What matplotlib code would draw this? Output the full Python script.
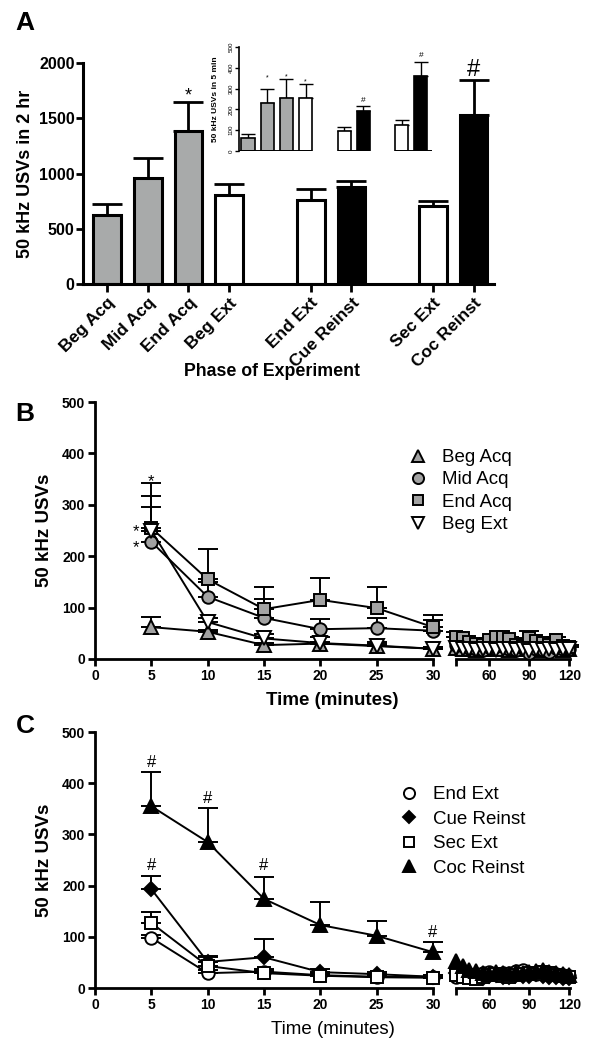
import matplotlib
matplotlib.use('Agg')
import matplotlib.pyplot as plt
from matplotlib.lines import Line2D
import numpy as np

plt.rcParams['font.family'] = ['Liberation Sans', 'DejaVu Sans']

# =============================================================================
# Data
# =============================================================================

# Panel A: USVs in 2 hr (main) and first 5 min (inset)
phases = ['Beg Acq', 'Mid Acq', 'End Acq', 'Beg Ext', 'End Ext', 'Cue Reinst', 'Sec Ext', 'Coc Reinst']
phase_pos = [0, 1, 2, 3, 5, 6, 8, 9]
phase_groups = [[0, 1, 2, 3], [4, 5], [6, 7]]
usv_2hr = [624, 959, 1385, 805, 760, 878, 706, 1529]
usv_2hr_sem = [100, 181, 265, 100, 100, 54, 45, 317]
usv_5min = [62, 231, 255, 253, 98, 194, 126, 362]
usv_5min_sem = [19, 67, 90, 67, 19, 24, 23, 68]
bar_fill = ['gray', 'gray', 'gray', 'white', 'white', 'black', 'white', 'black']

# significance marks
a_marks = [(2, 1700, '*'), (7, 1937, '#')]
inset_marks = [(1, 352, '*'), (2, 357, '*'), (3, 330, '*'), (5, 245, '#'), (7, 457, '#')]
b_marks = [(5, 345, '*'), (3.64, 247, '*'), (3.64, 216, '*')]
c_marks = [(5, 441, '#'), (10, 371, '#'), (15, 240, '#'), (5, 240, '#'), (30, 109, '#')]

# Panels B and C: time course
time_early = [5, 10, 15, 20, 25, 30]
time_late = [35, 40, 45, 50, 55, 60, 65, 70, 75, 80, 85, 90, 95, 100, 105, 110, 115, 120]

beg_acq = [62, 53, 27, 30, 25, 20]
beg_acq_sem = [20, 4, 4, 4, 4, 3]
mid_acq = [228, 121, 80, 58, 60, 55]
mid_acq_sem = [67, 28, 37, 20, 20, 21]
end_acq = [255, 155, 97, 115, 99, 62]
end_acq_sem = [87, 59, 43, 42, 41, 23]
beg_ext = [250, 72, 40, 31, 26, 20]
beg_ext_sem = [68, 8, 8, 12, 7, 4]

beg_acq_late = [22, 20, 19, 18, 20, 19, 21, 20, 18, 19, 20, 21, 19, 18, 20, 19, 18, 20]
mid_acq_late = [28, 25, 22, 20, 18, 24, 26, 25, 20, 17, 22, 12, 20, 18, 14, 22, 20, 19]
end_acq_late = [43, 40, 34, 29, 27, 37, 42, 42, 38, 27, 25, 40, 35, 32, 27, 37, 25, 24]
end_acq_late_sem = [9, 5, 4, 3, 3, 4, 5, 6, 5, 3, 3, 15, 5, 4, 3, 5, 3, 3]
beg_ext_late = [21, 20, 19, 18, 19, 20, 18, 19, 20, 18, 19, 15, 19, 18, 19, 18, 19, 20]

end_ext = [98, 29, 32, 25, 22, 22]
end_ext_sem = [5, 6, 5, 4, 4, 4]
cue_reinst = [193, 51, 60, 31, 27, 22]
cue_reinst_sem = [26, 11, 35, 6, 5, 4]
sec_ext = [127, 43, 29, 24, 21, 20]
sec_ext_sem = [21, 17, 6, 5, 4, 4]
coc_reinst = [355, 285, 174, 123, 102, 70]
coc_reinst_sem = [67, 66, 43, 45, 29, 20]

end_ext_late = [22, 25, 28, 27, 30, 32, 28, 30, 29, 33, 35, 30, 28, 32, 30, 27, 26, 24]
cue_reinst_late = [30, 28, 25, 22, 20, 24, 26, 22, 21, 25, 24, 23, 27, 24, 22, 21, 20, 19]
sec_ext_late = [25, 22, 20, 18, 22, 25, 27, 24, 22, 26, 28, 30, 28, 32, 30, 26, 24, 22]
coc_reinst_late = [52, 42, 35, 33, 30, 28, 32, 30, 28, 32, 30, 31, 34, 36, 32, 30, 28, 26]

GRAY_BAR = '#a8aaaa'
GRAY_MK = '#a2a2a2'
fill_map = {'gray': GRAY_BAR, 'white': 'white', 'black': 'black'}

W, H = 594, 1050
def rect(l, r, t, b):
    return [l / W, 1 - b / H, (r - l) / W, (b - t) / H]

fig = plt.figure(figsize=(W / 100, H / 100), dpi=100)

# =============================================================================
# Panel A main bars
# =============================================================================

ax_a = fig.add_axes(rect(83, 494, 63, 284))
ax_a.patch.set_alpha(0)
ax_a.errorbar(phase_pos, usv_2hr, yerr=[np.zeros(len(usv_2hr)), usv_2hr_sem], fmt='none',
              ecolor='k', elinewidth=2, capsize=11, capthick=2, zorder=1)
ax_a.bar(phase_pos, usv_2hr, width=0.68, color=[fill_map[c] for c in bar_fill],
         edgecolor='k', linewidth=2.2, zorder=2)
for i, y, s in a_marks:
    fs = 13 if s == '*' else 17
    ax_a.text(phase_pos[i], y, s, ha='center', va='center', fontsize=fs)
ax_a.set_xlim(-0.59, 9.5)
ax_a.set_ylim(0, 2000)
ax_a.set_yticks([0, 500, 1000, 1500, 2000])
ax_a.set_xticks(phase_pos)
ax_a.set_xticklabels(phases, rotation=45, ha='right', rotation_mode='anchor',
                     fontsize=12.5, fontweight='bold')
for lab in ax_a.get_yticklabels():
    lab.set_fontweight('bold')
ax_a.tick_params(axis='y', labelsize=11.5, width=2, length=5, pad=1)
ax_a.tick_params(axis='x', width=2, length=6, pad=2)
for sp in ['top', 'right']:
    ax_a.spines[sp].set_visible(False)
for sp in ['left', 'bottom']:
    ax_a.spines[sp].set_linewidth(2.2)
ax_a.set_ylabel('50 kHz USVs in 2 hr', fontsize=13, fontweight='bold', va='center')
ax_a.yaxis.set_label_coords(-0.141, 0.5)
ax_a.set_xlabel('Phase of Experiment', fontsize=12.8, fontweight='bold', va='center')
ax_a.xaxis.set_label_coords(0.461, -0.398)

# =============================================================================
# Panel A inset
# =============================================================================

ax_i = fig.add_axes(rect(239, 432, 47, 151))
ax_i.patch.set_alpha(0)
ax_i.errorbar(phase_pos, usv_5min, yerr=[np.zeros(len(usv_5min)), usv_5min_sem], fmt='none',
              ecolor='k', elinewidth=1, capsize=5, capthick=1, zorder=1)
ax_i.bar(phase_pos, usv_5min, width=0.68, color=[fill_map[c] for c in bar_fill],
         edgecolor='k', linewidth=1.2, zorder=2)
for i, y, s in inset_marks:
    ax_i.text(phase_pos[i], y, s, ha='center', va='center', fontsize=5 if s == '*' else 6)
ax_i.set_xlim(-0.47, 9.58)
ax_i.set_ylim(0, 500)
ax_i.set_yticks([0, 100, 200, 300, 400, 500])
ax_i.set_xticks([])
for lab in ax_i.get_yticklabels():
    lab.set_rotation(90)
    lab.set_va('center')
ax_i.tick_params(axis='y', labelsize=4.5, width=1, length=3, pad=1)
for sp in ['top', 'right', 'bottom']:
    ax_i.spines[sp].set_visible(False)
ax_i.spines['left'].set_linewidth(1.2)
for k, grp in enumerate(phase_groups):
    x0 = phase_pos[grp[0]] - 0.34 if k > 0 else -0.47
    x1 = phase_pos[grp[-1]] + 0.34 if k < len(phase_groups) - 1 else 9.58
    ax_i.hlines(0, x0, x1, color='k', lw=1.4, zorder=3)
ax_i.set_ylabel('50 kHz USVs in 5 min', fontsize=6, fontweight='bold', va='center')
ax_i.yaxis.set_label_coords(-0.124, 0.5)

# =============================================================================
# Panels B and C
# =============================================================================

def plot_series(ax, x, y, err, marker, face, ms, z):
    if err is not None:
        ax.errorbar(x, y, yerr=[np.zeros(len(err)), err], fmt='none', ecolor='k',
                    elinewidth=1.4, capsize=7, capthick=1.4, zorder=z, clip_on=False)
    ax.plot(x, y, color='k', lw=1.4, marker=marker, mfc=face, mec='k', mew=1.4,
            ms=ms, zorder=z + 0.5, clip_on=False)

def style_time_axes(ax, ax2, bold_xlabel):
    ax.set_xlim(0, 30)
    ax.set_ylim(0, 500)
    ax.set_xticks([0, 5, 10, 15, 20, 25, 30])
    ax.set_yticks([0, 100, 200, 300, 400, 500])
    ax2.set_xlim(35, 120.5)
    ax2.set_ylim(0, 500)
    ax2.set_xticks([35, 60, 90, 120])
    ax2.set_xticklabels(['', '60', '90', '120'])
    ax2.set_yticks([])
    for a in [ax, ax2]:
        a.patch.set_alpha(0)
        for sp in ['top', 'right']:
            a.spines[sp].set_visible(False)
        a.spines['bottom'].set_linewidth(2)
        a.tick_params(labelsize=10, width=2, length=5, pad=2)
        for lab in a.get_xticklabels() + a.get_yticklabels():
            lab.set_fontweight('bold')
    ax.spines['left'].set_linewidth(2)
    ax2.spines['left'].set_visible(False)
    ax.set_ylabel('50 kHz USVs', fontsize=13.5, fontweight='bold', va='center')
    ax.yaxis.set_label_coords(-0.148, 0.5)
    ax.set_xlabel('Time (minutes)', fontsize=13.5,
                  fontweight='bold' if bold_xlabel else 'normal', va='center')

# ---- B
ax_b2 = fig.add_axes(rect(456, 570, 402, 659))
ax_b = fig.add_axes(rect(95, 433, 402, 659))
b_series = [
    ('Beg Acq', beg_acq, beg_acq_sem, beg_acq_late, None, '^', GRAY_MK, 9.5),
    ('Mid Acq', mid_acq, mid_acq_sem, mid_acq_late, None, 'o', GRAY_MK, 9),
    ('End Acq', end_acq, end_acq_sem, end_acq_late, end_acq_late_sem, 's', GRAY_MK, 8.5),
    ('Beg Ext', beg_ext, beg_ext_sem, beg_ext_late, None, 'v', 'white', 9.5),
]
for k, (name, y, e, yl, el, mk, fc, ms) in enumerate(b_series):
    plot_series(ax_b, time_early, y, e, mk, fc, ms, 3 + k)
    plot_series(ax_b2, time_late, yl, el, mk, fc, ms, 3 + k)
for x, y, s in b_marks:
    ax_b.text(x, y, s, ha='center', va='center', fontsize=12)
style_time_axes(ax_b, ax_b2, True)
ax_b.xaxis.set_label_coords(0.703, -0.16)
handles = [Line2D([], [], ls='none', marker=mk, mfc=fc, mec='k', mew=1.4, ms=ms - 1)
           for (_, _, _, _, _, mk, fc, ms) in b_series]
ax_b.legend(handles, [s[0] for s in b_series], loc='upper left', bbox_to_anchor=(410 / W, 1 - 449 / H),
            bbox_transform=fig.transFigure, frameon=False, fontsize=13.5, handlelength=0.8,
            handletextpad=0.9, labelspacing=0.28, borderpad=0, borderaxespad=0)

# ---- C
ax_c2 = fig.add_axes(rect(456, 570, 732, 988))
ax_c = fig.add_axes(rect(95, 433, 732, 988))
c_series = [
    ('End Ext', end_ext, end_ext_sem, end_ext_late, 'o', 'white', 9),
    ('Cue Reinst', cue_reinst, cue_reinst_sem, cue_reinst_late, 'D', 'black', 7),
    ('Sec Ext', sec_ext, sec_ext_sem, sec_ext_late, 's', 'white', 8.5),
    ('Coc Reinst', coc_reinst, coc_reinst_sem, coc_reinst_late, '^', 'black', 9.5),
]
for k, (name, y, e, yl, mk, fc, ms) in enumerate(c_series):
    plot_series(ax_c, time_early, y, e, mk, fc, ms, 3 + k)
    plot_series(ax_c2, time_late, yl, None, mk, fc, ms, 3 + k)
for x, y, s in c_marks:
    ax_c.text(x, y, s, ha='center', va='center', fontsize=12)
style_time_axes(ax_c, ax_c2, False)
ax_c.xaxis.set_label_coords(0.703, -0.164)
handles = [Line2D([], [], ls='none', marker=mk, mfc=fc, mec='k', mew=1.4, ms=ms - 1)
           for (_, _, _, _, mk, fc, ms) in c_series]
ax_c.legend(handles, [s[0] for s in c_series], loc='upper left', bbox_to_anchor=(401 / W, 1 - 786 / H),
            bbox_transform=fig.transFigure, frameon=False, fontsize=13.5, handlelength=0.8,
            handletextpad=0.9, labelspacing=0.40, borderpad=0, borderaxespad=0)

# panel letters
for s, (x, y) in zip(['A', 'B', 'C'], [(25, 23), (25, 414), (25, 726)]):
    fig.text(x / W, 1 - y / H, s, ha='center', va='center', fontsize=19, fontweight='bold')

fig.savefig('out.png', dpi=100, facecolor='white')
